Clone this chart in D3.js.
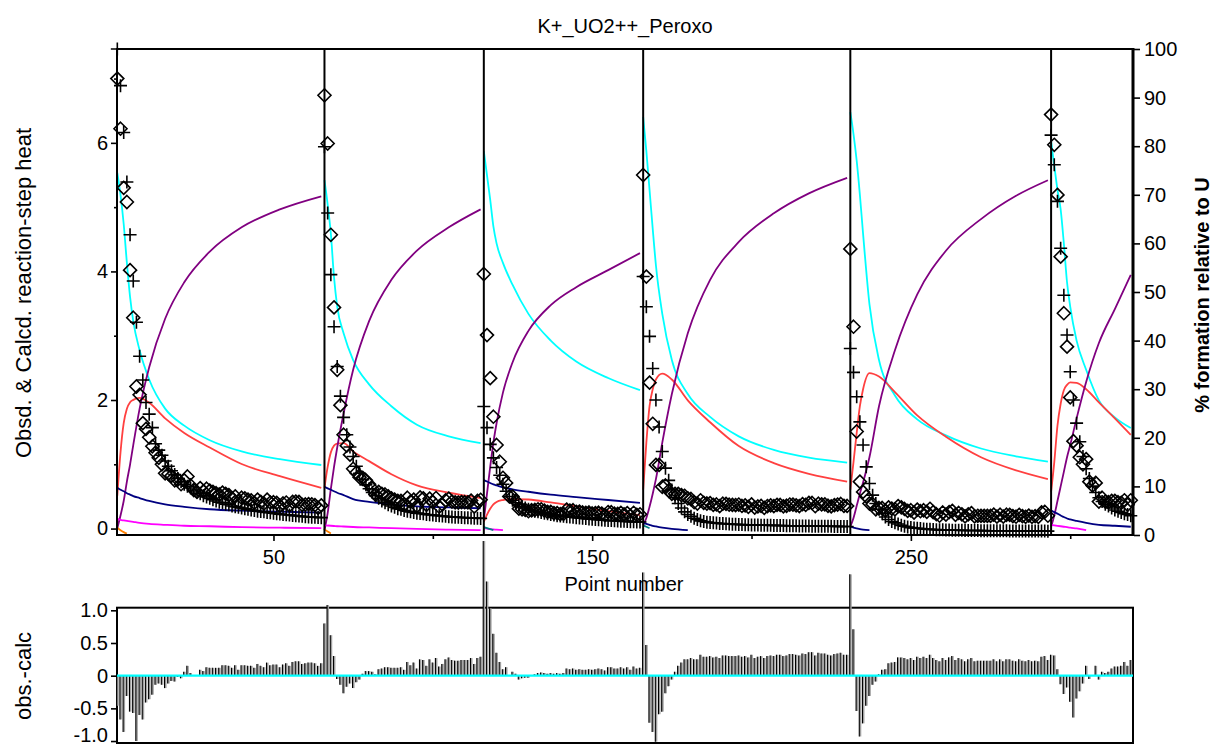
<!DOCTYPE html>
<html>
<head>
<meta charset="utf-8">
<script src="https://cdn.jsdelivr.net/npm/d3@7"></script>
<style>
  html, body { margin: 0; padding: 0; background: #fff; }
  svg { display: block; font-family: "Liberation Sans", Arial, Helvetica, sans-serif; }
</style>
</head>
<body>
<svg id="chart" width="1212" height="747"></svg>
<script>
// ---------------------------------------------------------------
// Titration runs: first point number of each run
// ---------------------------------------------------------------
const runStarts = [1, 66, 116, 166, 231, 294];

// Observed reaction-step heats (diamonds), one array per run
const obsRun1 = [7.00, 6.22, 5.30, 5.08, 4.02, 3.28, 2.21, 2.08, 1.64, 1.55,
  1.42, 1.28, 1.18, 1.10, 1.00, 0.86, 0.85, 0.82, 0.75, 0.76,
  0.69, 0.75, 0.81, 0.67, 0.60, 0.57, 0.63, 0.58, 0.62, 0.59,
  0.57, 0.55, 0.53, 0.56, 0.54, 0.52, 0.47, 0.50, 0.42, 0.48,
  0.47, 0.45, 0.44, 0.40, 0.45, 0.415, 0.39, 0.45, 0.405, 0.41,
  0.40, 0.355, 0.39, 0.405, 0.36, 0.415, 0.42, 0.415, 0.37, 0.375,
  0.38, 0.378, 0.365, 0.322, 0.36];
const obsRun2 = [6.74, 5.99, 4.57, 3.44, 2.47, 1.92, 1.46, 1.29, 1.15, 0.93,
  0.87, 0.80, 0.79, 0.75, 0.69, 0.62, 0.53, 0.57, 0.54, 0.53,
  0.50, 0.47, 0.45, 0.43, 0.43, 0.37, 0.48, 0.42, 0.45, 0.35,
  0.485, 0.47, 0.37, 0.465, 0.41, 0.475, 0.34, 0.375, 0.44, 0.465,
  0.42, 0.408, 0.405, 0.412, 0.41, 0.408, 0.435, 0.342, 0.43, 0.448];
const obsRun3 = [3.96, 3.01, 2.34, 1.74, 1.30, 1.04, 0.79, 0.71, 0.50, 0.50,
  0.43, 0.31, 0.30, 0.29, 0.27, 0.285, 0.29, 0.30, 0.30, 0.28,
  0.26, 0.26, 0.24, 0.24, 0.225, 0.23, 0.295, 0.28, 0.285, 0.26,
  0.265, 0.25, 0.245, 0.25, 0.235, 0.24, 0.247, 0.234, 0.21, 0.257,
  0.254, 0.231, 0.228, 0.245, 0.222, 0.24, 0.198, 0.246, 0.214, 0.222];
const obsRun4 = [5.50, 3.92, 2.27, 1.63, 0.99, 0.99, 0.65, 0.67, 0.59, 0.54,
  0.54, 0.54, 0.52, 0.51, 0.47, 0.46, 0.41, 0.39, 0.44, 0.40,
  0.39, 0.395, 0.37, 0.375, 0.35, 0.387, 0.384, 0.371, 0.368, 0.366,
  0.374, 0.352, 0.36, 0.338, 0.376, 0.325, 0.344, 0.353, 0.322, 0.351,
  0.36, 0.349, 0.368, 0.367, 0.346, 0.355, 0.374, 0.373, 0.362, 0.351,
  0.38, 0.37, 0.399, 0.398, 0.348, 0.387, 0.376, 0.376, 0.355, 0.345,
  0.364, 0.374, 0.383, 0.353, 0.352];
const obsRun5 = [4.35, 3.14, 1.51, 0.73, 0.57, 0.50, 0.39, 0.38, 0.30, 0.32,
  0.32, 0.28, 0.33, 0.31, 0.30, 0.35, 0.33, 0.305, 0.275, 0.285,
  0.25, 0.295, 0.27, 0.285, 0.26, 0.308, 0.255, 0.223, 0.20, 0.25,
  0.218, 0.256, 0.275, 0.214, 0.243, 0.222, 0.191, 0.22, 0.24, 0.189,
  0.199, 0.198, 0.198, 0.197, 0.197, 0.216, 0.186, 0.215, 0.185, 0.215,
  0.214, 0.194, 0.184, 0.213, 0.193, 0.183, 0.202, 0.182, 0.192, 0.181,
  0.251, 0.261, 0.20];
const obsRun6 = [6.44, 5.97, 5.19, 4.23, 3.35, 2.83, 2.04, 1.36, 1.29, 1.11,
  1.00, 1.08, 0.73, 0.67, 0.71, 0.42, 0.48, 0.42, 0.41, 0.43,
  0.43, 0.41, 0.40, 0.44, 0.37, 0.44];

// Calculated reaction-step heats (plus signs), one array per run
const calcRun1 = [7.46, 6.89, 6.16, 5.39, 4.57, 3.85, 3.21, 2.68, 2.31, 1.96,
  1.78, 1.57, 1.32, 1.22, 1.14, 1.05, 0.97, 0.90, 0.84, 0.78,
  0.73, 0.69, 0.66, 0.63, 0.60, 0.57, 0.54, 0.51, 0.49, 0.47,
  0.45, 0.43, 0.41, 0.40, 0.38, 0.37, 0.35, 0.34, 0.33, 0.32,
  0.31, 0.30, 0.29, 0.28, 0.27, 0.265, 0.26, 0.25, 0.245, 0.24,
  0.23, 0.225, 0.22, 0.215, 0.21, 0.205, 0.20, 0.195, 0.19, 0.185,
  0.18, 0.178, 0.175, 0.172, 0.17];
const calcRun2 = [5.94, 4.91, 3.95, 3.14, 2.52, 2.06, 1.73, 1.46, 1.27, 1.12,
  0.97, 0.86, 0.76, 0.68, 0.62, 0.56, 0.51, 0.47, 0.43, 0.40,
  0.37, 0.35, 0.33, 0.31, 0.30, 0.28, 0.27, 0.26, 0.25, 0.24,
  0.235, 0.23, 0.22, 0.215, 0.21, 0.205, 0.20, 0.195, 0.19, 0.185,
  0.18, 0.178, 0.175, 0.172, 0.17, 0.168, 0.165, 0.162, 0.16, 0.158];
const calcRun3 = [1.90, 1.57, 1.31, 1.10, 0.95, 0.83, 0.69, 0.58, 0.50, 0.44,
  0.40, 0.37, 0.34, 0.32, 0.30, 0.285, 0.27, 0.26, 0.25, 0.24,
  0.23, 0.22, 0.21, 0.20, 0.195, 0.19, 0.185, 0.18, 0.175, 0.17,
  0.165, 0.16, 0.155, 0.15, 0.145, 0.14, 0.137, 0.134, 0.13, 0.127,
  0.124, 0.121, 0.118, 0.115, 0.112, 0.11, 0.108, 0.106, 0.104, 0.102];
const calcRun4 = [3.92, 3.45, 2.99, 2.49, 2.00, 1.58, 1.20, 0.94, 0.75, 0.60,
  0.48, 0.39, 0.32, 0.26, 0.22, 0.19, 0.16, 0.14, 0.12, 0.11,
  0.10, 0.095, 0.09, 0.085, 0.08, 0.077, 0.074, 0.071, 0.068, 0.066,
  0.064, 0.062, 0.06, 0.058, 0.056, 0.055, 0.054, 0.053, 0.052, 0.051,
  0.05, 0.049, 0.048, 0.047, 0.046, 0.045, 0.044, 0.043, 0.042, 0.041,
  0.04, 0.04, 0.039, 0.038, 0.038, 0.037, 0.036, 0.036, 0.035, 0.035,
  0.034, 0.034, 0.033, 0.033, 0.032];
const calcRun5 = [2.80, 2.43, 2.05, 1.66, 1.30, 0.96, 0.70, 0.52, 0.39, 0.30,
  0.23, 0.18, 0.14, 0.11, 0.09, 0.07, 0.05, 0.035, 0.025, 0.015,
  0.01, 0.005, 0, -0.005, -0.01, -0.012, -0.015, -0.017, -0.02, -0.02,
  -0.022, -0.024, -0.025, -0.026, -0.027, -0.028, -0.029, -0.03, -0.03, -0.031,
  -0.031, -0.032, -0.032, -0.033, -0.033, -0.034, -0.034, -0.035, -0.035, -0.035,
  -0.036, -0.036, -0.036, -0.037, -0.037, -0.037, -0.038, -0.038, -0.038, -0.039,
  -0.039, -0.039, -0.04];
const calcRun6 = [6.12, 5.66, 5.09, 4.36, 3.63, 3.01, 2.44, 2.00, 1.64, 1.35,
  1.12, 0.93, 0.78, 0.66, 0.56, 0.48, 0.42, 0.38, 0.35, 0.32,
  0.29, 0.27, 0.25, 0.23, 0.22, 0.20];

// ---------------------------------------------------------------
// Species distribution, % formation relative to U, sampled at
// these point numbers (short series stop where the species fades)
// ---------------------------------------------------------------
const gridRun1 = [1, 2, 3, 4, 5, 6, 8, 11, 16, 22, 30, 40, 52, 65];
const cyanRun1 = [74.5, 70, 64, 56, 49, 44, 38, 32, 26, 22.5, 19.5, 17.2, 15.6, 14.4];
const redRun1 = [8.1, 17, 23, 26, 27.3, 27.8, 28.2, 27.2, 24, 21, 18, 14.6, 12.1, 9.7];
const purpleRun1 = [1.4, 4, 7, 11, 14.5, 18.5, 26, 34.5, 44.5, 52, 58.3, 63.3, 67, 69.7];
const navyRun1 = [9.7, 9.3, 9.0, 8.6, 8.3, 8.0, 7.6, 7.0, 6.3, 5.8, 5.3, 5.0, 4.8, 4.6];
const magentaRun1 = [3.3, 3.1, 3.0, 2.9, 2.8, 2.7, 2.5, 2.3, 2.1, 1.9, 1.8, 1.6, 1.5, 1.4];
const orangeRun1 = [1.5, 1.0, 0.6, 0.3];

const gridRun2 = [66, 67, 68, 69, 70, 72, 75, 80, 87, 95, 105, 115];
const cyanRun2 = [73, 68, 62, 53, 47, 41.5, 36, 31, 26.5, 22.7, 20.3, 18.9];
const redRun2 = [9.7, 14, 17, 18.4, 18.8, 18.9, 17.2, 15.2, 12.5, 10.2, 8.7, 7.6];
const purpleRun2 = [1.0, 4.5, 9.5, 14, 18, 25, 34, 44, 52.5, 58.5, 63.3, 67];
const navyRun2 = [9.9, 9.6, 9.3, 9.0, 8.7, 8.2, 7.4, 6.8, 6.3, 5.9, 5.7, 5.5];
const magentaRun2 = [2.0, 1.95, 1.9, 1.85, 1.8, 1.75, 1.65, 1.55, 1.4, 1.25, 1.1, 1.0];
const orangeRun2 = [1.2, 0.7, 0.3];

const gridRun3 = [116, 117, 118, 119, 120, 122, 125, 130, 137, 145, 155, 165];
const cyanRun3 = [79, 74, 69, 63.5, 60, 56, 51.5, 45.5, 40, 35.7, 32.3, 29.8];
const redRun3 = [2.7, 4.2, 5.4, 6.3, 6.8, 7.2, 7.4, 7.3, 6.7, 5.9, 4.9, 4.1];
const purpleRun3 = [3.1, 8.5, 14, 19, 23, 29.3, 35.5, 42, 47.3, 51, 54.5, 58];
const navyRun3 = [11.3, 11.0, 10.7, 10.4, 10.2, 9.8, 9.4, 8.9, 8.3, 7.8, 7.2, 6.6];
const magentaRun3 = [1.4, 1.3, 1.2, 1.15, 1.1, 1.0];
const tealRun3 = [1.6, 1.4, 1.2, 1.0];

const gridRun4 = [166, 167, 168, 169, 170, 172, 175, 180, 187, 196, 207, 218, 230];
const cyanRun4 = [86, 79, 71, 63, 55.5, 45.5, 36, 29, 24.3, 20.3, 17.5, 15.9, 14.9];
const redRun4 = [9.3, 19, 26.5, 30, 32, 33.2, 32, 27.7, 23.2, 18.3, 14.8, 12.6, 11];
const purpleRun4 = [2, 3.5, 5.8, 8.5, 11.5, 19, 29, 41.5, 52.5, 60.3, 66.2, 70.3, 73.5];
const navyRun4 = [2.5, 2.3, 2.1, 1.9, 1.75, 1.5, 1.25, 1.0];
const tealRun4 = [2.0, 1.7, 1.4];

const gridRun5 = [231, 232, 233, 234, 235, 237, 240, 245, 252, 261, 272, 283, 293];
const cyanRun5 = [87, 82.5, 77, 70, 62, 47.5, 36, 28.7, 23.8, 20.5, 17.8, 16.2, 15.1];
const redRun5 = [9.3, 15, 21, 26.5, 30, 33.3, 32.6, 29.4, 24.6, 20.2, 16, 13.3, 11.5];
const purpleRun5 = [1.7, 3.5, 6, 8.5, 10.8, 16, 26.5, 38, 49.5, 58.5, 65, 69.8, 73];
const navyRun5 = [1.7, 1.5, 1.35, 1.2, 1.1, 1.0];

const gridRun6 = [294, 295, 296, 297, 298, 299, 300, 302, 305, 309, 314, 319];
const cyanRun6 = [81, 76, 71, 67, 60, 52, 47, 40, 34, 27.7, 24.2, 22];
const redRun6 = [8.9, 15, 22.5, 27, 29.8, 30.9, 31.4, 31.3, 30, 27.3, 24, 20.6];
const purpleRun6 = [1.7, 4, 7, 10, 13, 16, 18.5, 24, 31.5, 39.5, 46.5, 53.5];
const navyRun6 = [5.1, 4.7, 4.4, 4.0, 3.7, 3.4, 3.2, 2.9, 2.5, 2.1, 1.9, 1.7];
const magentaRun6 = [2.1, 2.0, 1.9, 1.8, 1.7, 1.6, 1.5, 1.35, 1.0];

// Axis ticks
const heatMajorTicks = [0, 2, 4, 6];
const heatMinorTicks = [1, 3, 5, 7];
const pctTicks = [0, 10, 20, 30, 40, 50, 60, 70, 80, 90, 100];
const pointMajorTicks = [50, 150, 250];
const pointMinorTicks = [100, 200, 300];
const residTicks = [1.0, 0.5, 0, -0.5, -1.0];
const residTickLabels = ["1.0", "0.5", "0", "-0.5", "-1.0"];

// Text
const titleText = "K+_UO2++_Peroxo";
const leftTitle = "Obsd. & Calcd. reaction-step heat";
const rightTitle = "% formation relative to U";
const xTitle = "Point number";
const residTitle = "obs.-calc";

// ---------------------------------------------------------------
// Styles
// ---------------------------------------------------------------
const COLOR = {
  cyan: "#00ffff", red: "#ff4040", purple: "#800080", navy: "#000080",
  magenta: "#ff00ff", orange: "#ff8000", teal: "#008080"
};
const FONT = "20px";

const runs = [
  { obs: obsRun1, calc: calcRun1, grid: gridRun1,
    species: [["cyan", cyanRun1], ["red", redRun1], ["purple", purpleRun1], ["navy", navyRun1], ["magenta", magentaRun1], ["orange", orangeRun1]] },
  { obs: obsRun2, calc: calcRun2, grid: gridRun2,
    species: [["cyan", cyanRun2], ["red", redRun2], ["purple", purpleRun2], ["navy", navyRun2], ["magenta", magentaRun2], ["orange", orangeRun2]] },
  { obs: obsRun3, calc: calcRun3, grid: gridRun3,
    species: [["cyan", cyanRun3], ["red", redRun3], ["purple", purpleRun3], ["navy", navyRun3], ["magenta", magentaRun3], ["teal", tealRun3]] },
  { obs: obsRun4, calc: calcRun4, grid: gridRun4,
    species: [["cyan", cyanRun4], ["red", redRun4], ["purple", purpleRun4], ["navy", navyRun4], ["teal", tealRun4]] },
  { obs: obsRun5, calc: calcRun5, grid: gridRun5,
    species: [["cyan", cyanRun5], ["red", redRun5], ["purple", purpleRun5], ["navy", navyRun5]] },
  { obs: obsRun6, calc: calcRun6, grid: gridRun6,
    species: [["cyan", cyanRun6], ["red", redRun6], ["purple", purpleRun6], ["navy", navyRun6], ["magenta", magentaRun6]] }
];
runs.forEach((r, i) => { r.start = runStarts[i]; });

// ---------------------------------------------------------------
// Scales
// ---------------------------------------------------------------
const L = 117, R = 1133, TOP = 49, BOT = 535;
const RES_TOP = 607.7, RES_BOT = 743;

const x = d3.scaleLinear().domain([0.9, 319.7]).range([L, R]);
const yHeat = d3.scaleLinear().domain([-0.1, 7.46]).range([BOT, TOP]);
const yPct = d3.scaleLinear().domain([0, 100]).range([BOT, TOP]);
const yRes = d3.scaleLinear().domain([-1.03, 1.04]).range([RES_BOT, RES_TOP]);

const svg = d3.select("#chart");

// ---------------------------------------------------------------
// Species curves (right axis)
// ---------------------------------------------------------------
const curveLayer = svg.append("g").attr("fill", "none").attr("stroke-width", 1.8);
runs.forEach(run => {
  run.species.forEach(([key, vals]) => {
    const pts = vals.map((v, i) => [run.grid[i], v]);
    curveLayer.append("path")
      .datum(pts)
      .attr("stroke", COLOR[key])
      .attr("d", d3.line()
        .x(d => x(d[0]))
        .y(d => yPct(d[1]))
        .curve(d3.curveMonotoneX));
  });
});

// ---------------------------------------------------------------
// Frame, run separators and axes of the main panel
// ---------------------------------------------------------------
const frame = svg.append("g").attr("stroke", "#000");
frame.append("line").attr("x1", L - 1).attr("x2", R).attr("y1", TOP).attr("y2", TOP).attr("stroke-width", 2);
frame.append("line").attr("x1", L - 1).attr("x2", R).attr("y1", BOT).attr("y2", BOT).attr("stroke-width", 2);
frame.append("line").attr("x1", L).attr("x2", L).attr("y1", TOP).attr("y2", BOT + 1).attr("stroke-width", 2);
frame.append("line").attr("x1", R).attr("x2", R).attr("y1", TOP - 1).attr("y2", BOT + 1).attr("stroke-width", 3);

runStarts.slice(1).forEach(s => {
  frame.append("line")
    .attr("x1", x(s)).attr("x2", x(s))
    .attr("y1", TOP).attr("y2", BOT)
    .attr("stroke-width", 2);
});

function styleAxis(g) {
  g.select(".domain").remove();
  g.selectAll(".tick line").attr("stroke", "#000").attr("stroke-width", 1.6);
  g.selectAll(".tick text").attr("fill", "#000").attr("font-size", FONT)
    .attr("font-family", "'Liberation Sans', Arial, sans-serif");
}

// left heat axis
svg.append("g").attr("transform", `translate(${L},0)`)
  .call(d3.axisLeft(yHeat).tickValues(heatMajorTicks).tickSize(6).tickPadding(3).tickFormat(d3.format("d")))
  .call(styleAxis);
svg.append("g").attr("transform", `translate(${L},0)`)
  .call(d3.axisLeft(yHeat).tickValues(heatMinorTicks).tickSize(3).tickFormat(""))
  .call(styleAxis);

// right percentage axis
svg.append("g").attr("transform", `translate(${R + 1},0)`)
  .call(d3.axisRight(yPct).tickValues(pctTicks).tickSize(6).tickPadding(4).tickFormat(d3.format("d")))
  .call(styleAxis);

// bottom point-number axis
svg.append("g").attr("transform", `translate(0,${BOT})`)
  .call(d3.axisBottom(x).tickValues(pointMajorTicks).tickSize(6).tickPadding(9).tickFormat(d3.format("d")))
  .call(styleAxis);
svg.append("g").attr("transform", `translate(0,${BOT})`)
  .call(d3.axisBottom(x).tickValues(pointMinorTicks).tickSize(4).tickFormat(""))
  .call(styleAxis);

// ---------------------------------------------------------------
// Observed (diamond) and calculated (plus) heats
// ---------------------------------------------------------------
const diamond = "M0,-6.5L6.5,0L0,6.5L-6.5,0Z";
const plus = "M-6.5,0H6.5M0,-6.5V6.5";
const markLayer = svg.append("g").attr("fill", "none").attr("stroke", "#000").attr("stroke-width", 1.6);
runs.forEach(run => {
  markLayer.append("g").selectAll("path")
    .data(run.calc.map((v, i) => [run.start + i, v]))
    .join("path")
    .attr("d", plus)
    .attr("transform", d => `translate(${x(d[0])},${yHeat(d[1])})`);
  markLayer.append("g").selectAll("path")
    .data(run.obs.map((v, i) => [run.start + i, v]))
    .join("path")
    .attr("d", diamond)
    .attr("transform", d => `translate(${x(d[0])},${yHeat(d[1])})`);
});

// ---------------------------------------------------------------
// Residual panel: obs - calc
// ---------------------------------------------------------------
const residuals = [];
runs.forEach(run => {
  run.obs.forEach((v, i) => residuals.push([run.start + i, v - run.calc[i]]));
});

svg.append("rect")
  .attr("x", L).attr("y", RES_TOP).attr("width", R - L).attr("height", RES_BOT - RES_TOP)
  .attr("fill", "none").attr("stroke", "#000").attr("stroke-width", 2);

const barLayer = svg.append("g");
barLayer.selectAll("rect")
  .data(residuals)
  .join("rect")
  .attr("x", d => x(d[0]) - 0.6)
  .attr("width", 2)
  .attr("y", d => Math.min(yRes(0), yRes(d[1])))
  .attr("height", d => Math.abs(yRes(d[1]) - yRes(0)))
  .attr("fill", "#a0a0a0");
barLayer.selectAll("line")
  .data(residuals)
  .join("line")
  .attr("x1", d => x(d[0]) - 0.6).attr("x2", d => x(d[0]) - 0.6)
  .attr("y1", yRes(0)).attr("y2", d => yRes(d[1]))
  .attr("stroke", "#000").attr("stroke-width", 1.1);

svg.append("line")
  .attr("x1", L).attr("x2", R).attr("y1", yRes(0)).attr("y2", yRes(0))
  .attr("stroke", COLOR.cyan).attr("stroke-width", 2.2);

const resAxis = svg.append("g").attr("transform", `translate(${L},0)`)
  .call(d3.axisLeft(yRes).tickValues(residTicks).tickSize(6).tickPadding(3)
    .tickFormat((d, i) => residTickLabels[i]))
  .call(styleAxis);
// keep the lowest label inside the canvas
resAxis.selectAll(".tick text").filter(d => d === -1.0).attr("dy", "0.02em");

// ---------------------------------------------------------------
// Titles
// ---------------------------------------------------------------
svg.append("text").attr("x", (L + R) / 2).attr("y", 33)
  .attr("text-anchor", "middle").attr("font-size", "20px").text(titleText);

svg.append("text").attr("transform", "translate(31,293) rotate(-90)")
  .attr("text-anchor", "middle").attr("font-size", "22px").text(leftTitle);

svg.append("text").attr("transform", "translate(1209,295) rotate(-90)")
  .attr("text-anchor", "middle").attr("font-size", "20px").attr("font-weight", "bold").text(rightTitle);

svg.append("text").attr("x", 624).attr("y", 591)
  .attr("text-anchor", "middle").attr("font-size", "20px").text(xTitle);

svg.append("text").attr("transform", "translate(31,676) rotate(-90)")
  .attr("text-anchor", "middle").attr("font-size", "22px").text(residTitle);
</script>
</body>
</html>
